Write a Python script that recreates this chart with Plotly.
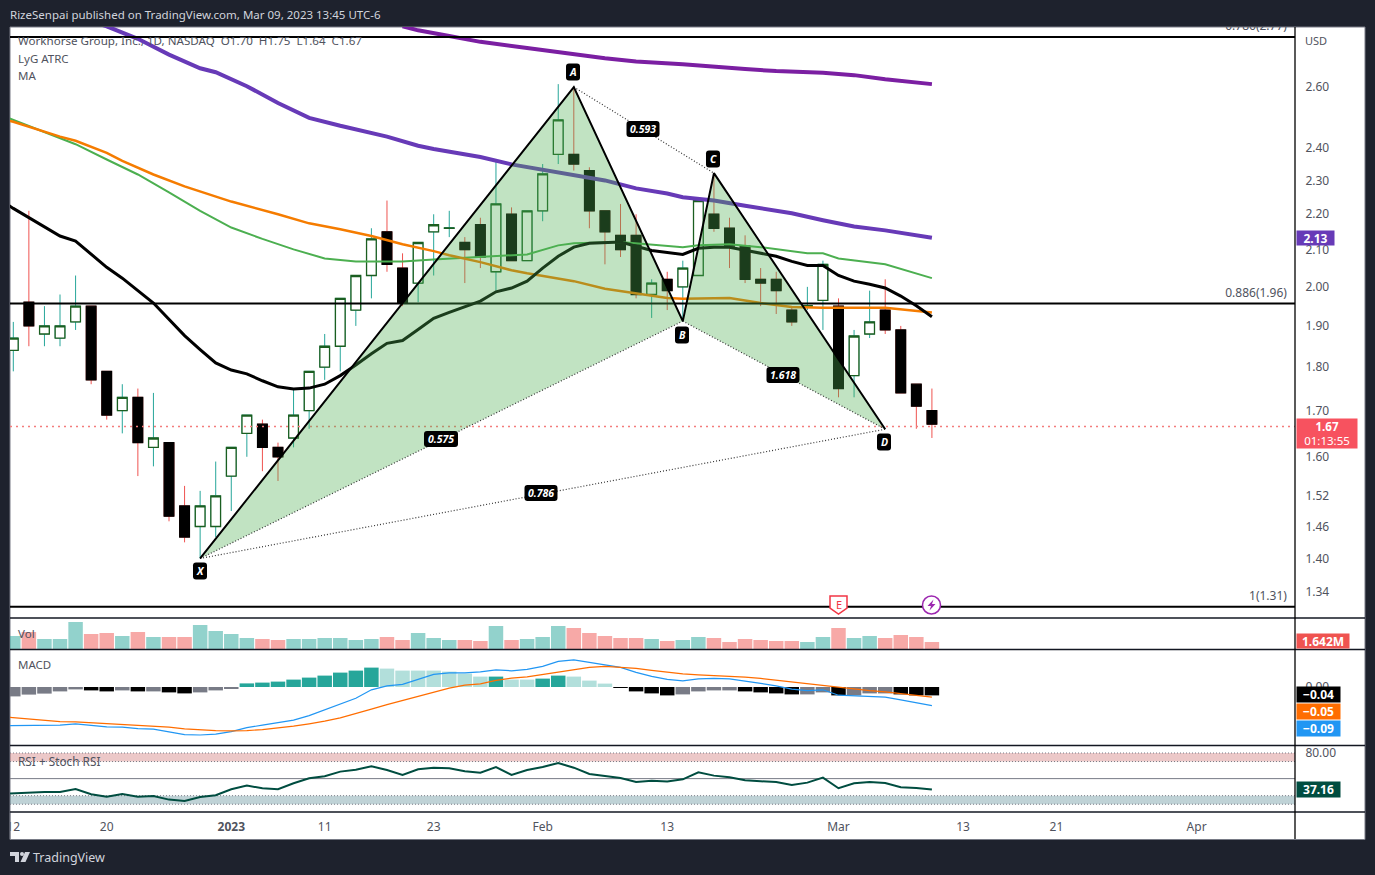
import math
import plotly.graph_objects as go

# ---------------- data ----------------
opens  = [1.84,1.96,1.88,1.87,1.91,1.95,1.79,1.70,1.73,1.62,1.63,1.50,1.46,1.46,1.56,1.65,1.67,1.62,1.64,1.70,
          1.80,1.85,1.94,2.03,2.15,2.05,2.01,2.15,2.16,2.12,2.17,2.04,2.20,2.07,2.21,2.38,2.38,2.33,2.21,2.14,
          2.14,1.98,2.02,2.00,2.03,2.20,2.16,2.11,2.02,2.02,1.94,1.95,1.965,1.95,1.78,1.88,1.94,1.89,1.76,1.70]
highs  = [1.91,2.21,1.95,1.98,2.03,1.95,1.79,1.76,1.75,1.74,1.63,1.54,1.53,1.59,1.62,1.69,1.68,1.63,1.75,1.79,
          1.88,1.97,2.03,2.16,2.24,2.09,2.12,2.20,2.21,2.135,2.19,2.36,2.22,2.21,2.35,2.61,2.60,2.34,2.21,2.23,
          2.20,2.02,2.04,2.07,2.24,2.32,2.19,2.14,2.05,2.04,1.95,2.00,2.07,1.97,1.89,1.99,2.02,1.90,1.76,1.75]
lows   = [1.79,1.85,1.85,1.85,1.89,1.76,1.68,1.65,1.56,1.58,1.47,1.43,1.40,1.44,1.49,1.60,1.57,1.55,1.62,1.66,
          1.77,1.79,1.90,1.97,2.04,1.95,1.96,2.03,2.135,2.01,2.05,1.99,2.07,2.07,2.18,2.35,2.33,2.16,2.06,2.08,
          1.97,1.92,1.94,1.91,2.03,2.15,2.05,2.01,1.95,1.93,1.90,1.94,1.89,1.73,1.73,1.87,1.88,1.74,1.66,1.64]
closes = [1.87,1.90,1.90,1.90,1.95,1.77,1.69,1.73,1.63,1.64,1.48,1.44,1.50,1.52,1.62,1.69,1.62,1.60,1.69,1.79,
          1.85,1.97,2.03,2.13,2.06,1.96,2.12,2.17,2.161,2.10,2.08,2.23,2.07,2.21,2.32,2.49,2.35,2.21,2.15,2.10,
          1.98,2.01,1.99,2.05,2.24,2.16,2.11,2.02,2.01,1.99,1.91,1.951,2.06,1.75,1.875,1.91,1.89,1.74,1.71,1.67]
bar_index = list(range(len(closes)))

tick_index  = [0,6,14,20,27,34,42,53,61,67,76]
tick_labels = ["12","20","<b>2023</b>","11","23","Feb","13","Mar","13","21","Apr"]

price_ticks = [2.60,2.40,2.30,2.20,2.10,2.00,1.90,1.80,1.70,1.60,1.52,1.46,1.40,1.34]

ma_black_i = [-1,0,3,4,6,7,9,10,11,12,13,14,15,16,17,18,19,20,21,22,23,24,25,26,27,28,29,30,31,32,33,34,35,36,37,39,41,43,44,45,46,47,48,49,50,51,52,53,54,55,56,57,58,59]
ma_black_v = [2.247,2.217,2.138,2.124,2.052,2.023,1.958,1.916,1.876,1.842,1.810,1.793,1.784,1.768,1.754,1.749,1.751,1.760,1.780,1.805,1.832,1.857,1.864,1.891,1.919,1.934,1.948,1.963,1.987,1.997,2.015,2.050,2.082,2.107,2.118,2.121,2.098,2.087,2.104,2.107,2.107,2.098,2.090,2.082,2.068,2.057,2.057,2.030,2.015,2.007,1.997,1.976,1.951,1.923]
ma_green_i = [-1,0,2,3,4,6,8,10,12,14,16,18,20,22,25,27,30,33,35,36,39,42,43,44,46,48,51,52,53,56,59]
ma_green_v = [2.510,2.490,2.452,2.433,2.412,2.364,2.318,2.264,2.210,2.162,2.130,2.101,2.076,2.068,2.068,2.073,2.079,2.087,2.112,2.118,2.121,2.110,2.107,2.112,2.115,2.107,2.090,2.090,2.076,2.060,2.023]
ma_orange_i = [-1,0,3,4,6,7,9,11,14,15,17,19,21,23,25,27,28,30,32,33,36,38,40,42,43,46,48,50,52,56,59]
ma_orange_v = [2.497,2.484,2.436,2.423,2.385,2.360,2.318,2.282,2.237,2.225,2.200,2.174,2.157,2.138,2.115,2.096,2.085,2.066,2.044,2.036,2.015,1.995,1.982,1.971,1.969,1.971,1.958,1.948,1.946,1.946,1.934]
ma_violet_i = [5,6,8,10,12,13,15,17,19,21,24,26,27,30,32,34,36,38,40,42,43,45,47,50,52,54,56,59]
ma_violet_v = [2.834,2.816,2.770,2.713,2.665,2.651,2.603,2.546,2.497,2.471,2.436,2.407,2.397,2.372,2.349,2.333,2.318,2.300,2.276,2.261,2.250,2.240,2.225,2.203,2.183,2.165,2.154,2.133]
ma_purple_i = [25,26,28,30,33,36,38,40,43,47,49,52,54,56,59]
ma_purple_v = [2.816,2.801,2.780,2.759,2.737,2.713,2.700,2.689,2.679,2.662,2.655,2.649,2.641,2.627,2.610]

harmonic_i = {"X":12,"A":36,"B":43,"C":45,"D":56}
harmonic_p = {"X":1.40,"A":2.60,"B":1.912,"C":2.322,"D":1.659}

fib_levels = [2.777,1.957,1.314]
fib_labels = ["0.786(2.77)","0.886(1.96)","1(1.31)"]
last_price = 1.665

volume_m = [2.99,3.88,2.32,2.32,6.12,3.44,3.66,2.99,3.88,2.76,2.76,2.76,5.45,4.11,3.44,2.54,2.32,2.09,2.32,2.32,
            2.54,2.54,2.09,2.32,2.76,2.09,3.66,2.54,2.09,2.09,1.87,5.23,2.09,2.32,2.76,5.23,4.78,3.66,2.99,2.54,
            2.54,2.32,1.87,2.09,2.76,2.54,1.64,2.32,2.09,1.87,1.87,1.64,2.76,4.78,2.54,2.99,2.54,3.21,2.76,1.642]

macd_hist = [-.047,-.038,-.033,-.022,-.012,-.017,-.022,-.017,-.022,-.022,-.027,-.032,-.027,-.017,-.007,
             .018,.022,.027,.037,.047,.057,.072,.082,.097,.092,.082,.082,.082,.077,.067,.052,.052,.037,.037,.042,.057,.052,.032,.017,
             -.001,-.022,-.032,-.042,-.037,-.022,-.017,-.017,-.022,-.027,-.032,-.037,-.037,-.027,-.042,-.042,-.032,-.032,-.037,-.042,-.042]
hist_rising = [1,1,1,1,1,0,0,1,0,1,0,0,1,1,1,1,1,1,1,1,1,1,1,1,0,0,0,0,0,0,0,1,0,0,1,1,0,0,0,
               0,0,0,0,1,1,1,1,0,0,0,0,1,1,0,1,1,1,0,0,0]
line_index = [-1] + bar_index
macd_line = [-.194,-.194,-.194,-.193,-.191,-.184,-.191,-.199,-.201,-.208,-.211,-.226,-.238,-.240,-.236,-.223,-.203,-.191,-.180,-.166,-.143,
             -.114,-.086,-.056,-.014,.006,.013,.038,.063,.071,.071,.076,.086,.081,.088,.103,.128,.136,.124,.113,.098,
             .073,.053,.038,.031,.041,.043,.041,.028,.018,.006,-.011,-.018,-.014,-.041,-.044,-.048,-.051,-.064,-.078,-.093]
signal_line = [-.147,-.154,-.161,-.168,-.173,-.174,-.178,-.183,-.186,-.191,-.196,-.201,-.209,-.214,-.218,-.219,-.218,-.213,-.205,-.196,-.184,
               -.171,-.154,-.134,-.111,-.088,-.068,-.048,-.026,-.006,.009,.016,.033,.044,.051,.063,.076,.089,.098,.103,.099,
               .093,.083,.073,.066,.061,.058,.054,.049,.043,.034,.026,.018,.009,-.001,-.009,-.018,-.024,-.033,-.041,-.051]
rsi_values = [32.0,32.8,34.4,34.4,34.4,37.9,31.7,28.9,32.0,28.9,29.7,25.4,23.9,28.5,30.5,37.5,41.8,38.7,37.5,44.5,50.4,
              52.7,58.2,60.5,64.4,60.1,54.3,60.9,62.8,62.1,58.6,57.0,63.6,54.3,60.1,63.6,68.3,62.8,55.4,53.1,50.8,
              46.1,47.6,46.5,49.2,57.4,53.5,51.5,48.0,46.9,46.1,42.6,45.3,51.2,38.7,44.5,46.1,44.9,39.8,39.1,37.16]

# ---------------- page geometry ----------------
W, H = 1375, 875
def X(px): return px / W
def Y(py): return 1 - py / H

FONT = "Noto Sans"
X_RANGE = [-0.212, 82.32]
x_dom = [X(10), X(1295)]
frame = "#1e222d"
soft = "#50535e"

fig = go.Figure()

# ---------------- candles ----------------
fig.add_trace(go.Candlestick(x=bar_index, open=opens, high=highs, low=lows, close=closes,
    increasing=dict(line=dict(color="#26a69a", width=1), fillcolor="#26a69a"),
    decreasing=dict(line=dict(color="#ef5350", width=1), fillcolor="#ef5350"),
    hoverinfo="skip", showlegend=False, xaxis="x", yaxis="y"))
fig.add_trace(go.Candlestick(x=bar_index, open=opens,
    high=[max(a, b) for a, b in zip(opens, closes)],
    low=[min(a, b) for a, b in zip(opens, closes)], close=closes,
    increasing=dict(line=dict(color="#1b5e20", width=1.3), fillcolor="#ffffff"),
    decreasing=dict(line=dict(color="#000000", width=1.3), fillcolor="#000000"),
    hoverinfo="skip", showlegend=False, xaxis="x", yaxis="y"))

# ---------------- moving averages ----------------
def add_line(xs, ys, color, width, dash="solid", xa="x", ya="y"):
    fig.add_trace(go.Scatter(x=xs, y=ys, mode="lines", line=dict(color=color, width=width, dash=dash),
                             hoverinfo="skip", showlegend=False, xaxis=xa, yaxis=ya))

add_line(ma_purple_i, ma_purple_v, "#7b1fa2", 4)
add_line(ma_violet_i, ma_violet_v, "#673ab7", 4)
add_line(ma_green_i, ma_green_v, "#4caf50", 2)
add_line(ma_orange_i, ma_orange_v, "#f57c00", 2.5)
add_line(ma_black_i, ma_black_v, "#000000", 3)

# ---------------- fib levels and last price ----------------
for lv in fib_levels:
    add_line(X_RANGE, [lv, lv], "#000000", 2)
add_line(X_RANGE, [last_price, last_price], "#f47c7c", 1.6, dash="2px,4px")

# ---------------- harmonic pattern ----------------
def pts(names):
    return [harmonic_i[n] for n in names], [harmonic_p[n] for n in names]

for tri in ("XABX", "BCDB"):
    xs, ys = pts(tri)
    fig.add_trace(go.Scatter(x=xs, y=ys, mode="none", fill="toself", fillcolor="rgba(76,175,80,0.35)",
                             hoverinfo="skip", showlegend=False, xaxis="x", yaxis="y"))
for seg in ("XB", "AC", "BD", "XD"):
    xs, ys = pts(seg)
    add_line(xs, ys, "#333333", 1.2, dash="1px,2px")
xs, ys = pts("XABCD")
add_line(xs, ys, "#000000", 2)

# fib labels as clipped text on the price pane, lifted a little above their lines
fig.add_trace(go.Scatter(x=[81.8] * 3, y=[v * 1.0046 for v in fib_levels], mode="text", text=fib_labels, textposition="top left",
                         textfont=dict(family=FONT, size=12, color=soft), hoverinfo="skip", showlegend=False,
                         xaxis="x", yaxis="y"))

# ---------------- volume ----------------
fig.add_trace(go.Bar(x=bar_index, y=volume_m, width=0.93,
    marker=dict(color=["rgba(38,166,154,0.5)" if c >= o else "rgba(239,83,80,0.5)" for o, c in zip(opens, closes)], line=dict(width=0)),
    hoverinfo="skip", showlegend=False, xaxis="x2", yaxis="y2"))

# ---------------- MACD ----------------
def hist_color(v, r):
    if v >= 0:
        return "#26a69a" if r else "#b2dfdb"
    return "#787b86" if r else "#000000"
fig.add_trace(go.Bar(x=bar_index, y=macd_hist, width=0.93,
    marker=dict(color=[hist_color(v, r) for v, r in zip(macd_hist, hist_rising)], line=dict(width=0)),
    hoverinfo="skip", showlegend=False, xaxis="x3", yaxis="y3"))
add_line(line_index, macd_line, "#2196f3", 1.2, xa="x3", ya="y3")
add_line(line_index, signal_line, "#ff6d00", 1.2, xa="x3", ya="y3")

# ---------------- RSI ----------------
add_line(line_index, rsi_values, "#004d40", 2, xa="x4", ya="y4")

# ---------------- chrome shapes ----------------
shapes = []
def rect(x0, y0, x1, y1, fill, line=None, layer="below", lw=1):
    shapes.append(dict(type="rect", xref="paper", yref="paper", x0=X(x0), x1=X(x1), y0=Y(y0), y1=Y(y1),
                       fillcolor=fill, line=dict(color=line or "rgba(0,0,0,0)", width=lw if line else 0), layer=layer))
def hline(y, x0, x1, color, w):
    shapes.append(dict(type="line", xref="paper", yref="paper", x0=X(x0), x1=X(x1), y0=Y(y), y1=Y(y),
                       line=dict(color=color, width=w), layer="above"))
def path(d, fill, line=None, lw=1):
    shapes.append(dict(type="path", xref="paper", yref="paper", path=d, fillcolor=fill,
                       line=dict(color=line or "rgba(0,0,0,0)", width=lw if line else 0), layer="above"))
def P(cmds):
    out = []
    for c in cmds:
        if isinstance(c, str):
            out.append(c)
        else:
            out.append(f"{X(c[0]):.5f},{Y(c[1]):.5f}")
    return " ".join(out)
def pill(cx, cy, w, h, r=3, fill="#000000"):
    l, t, R, b = cx - w/2, cy - h/2, cx + w/2, cy + h/2
    path(P(["M", (l+r, t), "L", (R-r, t), "Q", (R, t), (R, t+r), "L", (R, b-r), "Q", (R, b), (R-r, b),
            "L", (l+r, b), "Q", (l, b), (l, b-r), "L", (l, t+r), "Q", (l, t), (l+r, t), "Z"]), fill)

rect(10, 27, 1365, 839.5, "#ffffff", line="#787b86")

# RSI bands
for lo, hi, col in ((70, 80, "rgba(178,34,34,0.25)"), (20, 30, "rgba(0,77,90,0.25)")):
    shapes.append(dict(type="rect", xref="paper", yref="y4", x0=X(10), x1=X(1295), y0=lo, y1=hi,
                       fillcolor=col, line=dict(width=0), layer="below"))
    for lv in (lo, hi):
        shapes.append(dict(type="line", xref="paper", yref="y4", x0=X(10), x1=X(1295), y0=lv, y1=lv,
                           line=dict(color="#787b86", width=1, dash="1px,2px"), layer="below"))
shapes.append(dict(type="line", xref="paper", yref="y4", x0=X(10), x1=X(1295), y0=50, y1=50,
                   line=dict(color="#787b86", width=1), layer="below"))

for y in (618, 649.5, 745.5, 812):
    hline(y, 10, 1365, "#131722", 1.3)
shapes.append(dict(type="line", xref="paper", yref="paper", x0=X(1295), x1=X(1295), y0=Y(27), y1=Y(839),
                   line=dict(color="#000000", width=1.3), layer="above"))

# clip of the first date label at the card edge
rect(0, 813, 9.5, 839, frame, layer="above")
rect(9.5, 813, 10.5, 839, "#787b86", layer="above")

# pattern pills
pills = [("A",573,72,14,17),("B",682,335,14,17),("C",713,159,14,17),("D",884,442,14,17),("X",200,571,14,17),
         ("0.593",643,129,33,16),("0.575",441,439,34,16),("1.618",783,375,33,16),("0.786",541,493,33,16)]
for t, cx, cy, w, h in pills:
    pill(cx, cy, w, h)

# earnings flag
path(P(["M",(830,596),"L",(847,596),"L",(847,608),"L",(838.5,614),"L",(830,608),"Z"]), "#ffffff", "#f23645", 1.5)
# dividends/split circle
shapes.append(dict(type="circle", xref="paper", yref="paper", x0=X(922.5), x1=X(940.5), y0=Y(596), y1=Y(614),
                   fillcolor="#ffffff", line=dict(color="#9c27b0", width=1.5), layer="above"))
path(P(["M",(933.5,599.5),"L",(927.5,606),"L",(931,606),"L",(929.5,610.5),"L",(935.5,604),"L",(932,604),"Z"]), "#9c27b0")

# TradingView mark
path(P(["M",(10,852),"L",(19,852),"L",(19,862),"L",(15,862),"L",(15,856),"L",(10,856),"Z"]), "#d1d4dc")
path(P(["M",(25,852),"L",(30,852),"L",(25.5,862),"L",(20.5,862),"Z"]), "#d1d4dc")
shapes.append(dict(type="circle", xref="paper", yref="paper", x0=X(20), x1=X(24), y0=Y(852), y1=Y(856),
                   fillcolor="#d1d4dc", line=dict(width=0), layer="above"))

# ---------------- annotations ----------------
ann = []
def note(x, y, text, size=12, color=soft, anchor="left", bold=False, italic=False):
    t = text
    if bold: t = f"<b>{t}</b>"
    if italic: t = f"<i>{t}</i>"
    ann.append(dict(xref="paper", yref="paper", x=X(x), y=Y(y), text=t, showarrow=False, xanchor=anchor, yanchor="middle",
                    borderpad=0, borderwidth=0, font=dict(family=FONT, size=size, color=color)))
def tag(y_ref, y_val, text, bg, w, h=15, anchor="middle"):
    ann.append(dict(xref="paper", yref=y_ref, x=X(1295.5), y=y_val, text=f"<b>{text}</b>", showarrow=False, xanchor="left", yanchor=anchor,
                    width=w, height=h, align="center", valign="middle", bgcolor=bg, borderpad=0,
                    font=dict(family=FONT, size=12, color="#ffffff")))

note(10, 14, "RizeSenpai published on TradingView.com, Mar 09, 2023 13:45 UTC-6", size=11.5, color="#d1d4dc")
note(18, 41, "Workhorse Group, Inc., 1D, NASDAQ  O1.70  H1.75  L1.64  C1.67", size=11.6)
note(18, 58.5, "LyG ATRC", size=11.5)
note(18, 75.5, "MA", size=11.5)
note(18, 633.5, "Vol", size=11.5)
note(18, 664.5, "MACD", size=11.5)
note(18, 760.5, "RSI + Stoch RSI", size=11.8)
note(1305, 40.5, "USD", size=11, color=soft)
note(33, 857, "TradingView", size=12.5, color="#d1d4dc")
for t, cx, cy, w, h in pills:
    note(cx, cy, t, size=10.5, color="#ffffff", anchor="center", bold=True, italic=True)
note(838.5, 604, "E", size=11, color="#f23645", anchor="center")

tag("y", math.log10(ma_violet_v[-1]), f"{ma_violet_v[-1]:.2f}", "#673ab7", 37, 14)
ann.append(dict(xref="paper", yref="paper", x=X(1295.5), y=Y(433.5), text="<b>1.67</b><br>01:13:55", showarrow=False, xanchor="left", yanchor="middle",
                width=60, height=29, align="center", valign="middle", bgcolor="#f7525f", borderpad=0,
                font=dict(family=FONT, size=11.5, color="#ffffff")))
tag("y2", 0, "1.642M", "#ef5350", 52, 14, anchor="bottom")
tag("y3", -0.0375, "−0.04", "#000000", 43)
tag("y3", -0.1225, "−0.05", "#ff6d00", 43)
tag("y3", -0.2075, "−0.09", "#2196f3", 43)
tag("y4", rsi_values[-1], f"{rsi_values[-1]:.2f}", "#004d40", 43)

# ---------------- layout ----------------
def y_axis(dom, rng, anchor, kind="linear", vals=None, text=None):
    return dict(domain=dom, range=rng, type=kind, side="right", anchor=anchor, automargin=False,
                showgrid=False, zeroline=False, showline=False,
                tickmode="array", tickvals=vals or [], ticktext=text or [], ticks="outside", ticklen=7,
                tickcolor="rgba(0,0,0,0)", tickfont=dict(family=FONT, size=12, color=soft), fixedrange=True)
def x_axis(anchor, show=False):
    return dict(domain=x_dom, range=X_RANGE, anchor=anchor, type="linear", automargin=False,
                showgrid=False, zeroline=False, showline=False,
                tickmode="array", tickvals=tick_index if show else [], ticktext=tick_labels if show else [],
                ticks="outside" if show else "", ticklen=4, tickcolor="rgba(0,0,0,0)",
                tickfont=dict(family=FONT, size=12, color=soft), fixedrange=True,
                rangeslider=dict(visible=False))

fig.update_layout(
    width=W, height=H, margin=dict(l=0, r=0, t=0, b=0), autosize=False,
    paper_bgcolor=frame, plot_bgcolor="rgba(0,0,0,0)", showlegend=False,
    boxmode="overlay", boxgap=0.2, boxgroupgap=0.22, barmode="overlay", hovermode=False,
    font=dict(family=FONT),
    shapes=shapes, annotations=ann,
    xaxis=x_axis("y"), xaxis2=x_axis("y2"), xaxis3=x_axis("y3"), xaxis4=x_axis("y4", True),
    yaxis=y_axis([Y(617.5), Y(27)], [0.11247, 0.44922], "x", "log", price_ticks, [f"{v:.2f}" for v in price_ticks]),
    yaxis2=y_axis([Y(649.3), Y(618.5)], [0, 6.9], "x2"),
    yaxis3=y_axis([Y(745), Y(650)], [-0.29, 0.185], "x3", vals=[0], text=["0.00"]),
    yaxis4=y_axis([Y(812), Y(746)], [10.9, 88.2], "x4", vals=[80], text=["80.00"]),
)

fig.write_html("out.html", config={"displayModeBar": False},
               post_script="document.body.style.margin='0';document.documentElement.style.overflow='hidden';")
